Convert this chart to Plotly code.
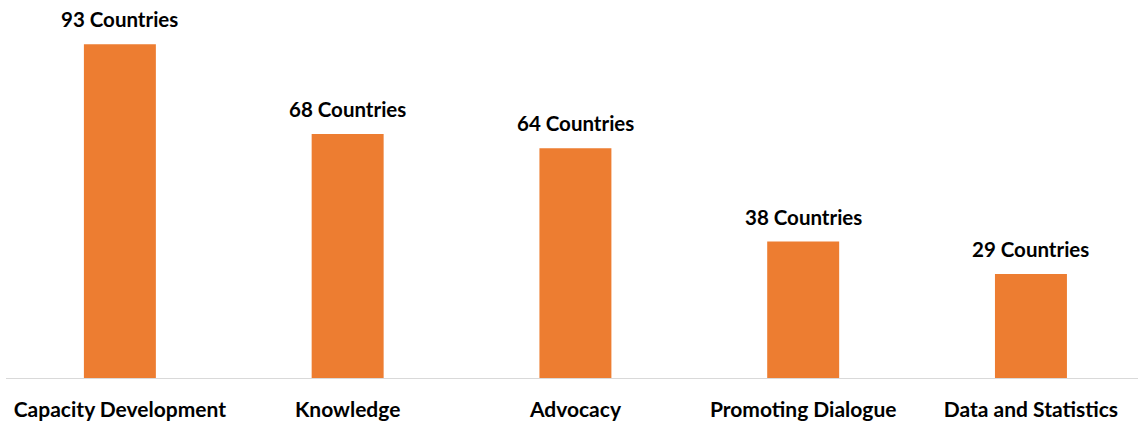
import plotly.graph_objects as go

categories = ["Capacity Development", "Knowledge", "Advocacy", "Promoting Dialogue", "Data and Statistics"]
values = [93, 68, 64, 38, 29]
labels = [f"{v} Countries" for v in values]

FONT = "Lato"

fig = go.Figure(go.Bar(
    x=categories, y=values,
    marker=dict(color="#ED7D31", line=dict(width=0)),
    hoverinfo="skip",
))

for c, v, t in zip(categories, values, labels):
    fig.add_annotation(x=c, y=v, text=t, showarrow=False, yanchor="bottom", yshift=11,
                       font=dict(family=FONT, size=20.5, color="#000000", weight="bold"))

fig.update_layout(
    width=1138, height=421,
    margin=dict(l=6, r=0, t=0, b=43, autoexpand=False),
    paper_bgcolor="white", plot_bgcolor="white",
    bargap=0.684,
    showlegend=False,
    xaxis=dict(range=[-0.5, 4.47], showline=True, linecolor="#D9D9D9", linewidth=1,
               ticks="", showgrid=False, zeroline=False, automargin=False,
               ticklabelstandoff=13,
               tickfont=dict(family=FONT, size=21, color="#000000", weight="bold")),
    yaxis=dict(range=[0, 105.3], visible=False, showgrid=False, zeroline=False),
)
fig.write_html("out.html", config={"displayModeBar": False},
               post_script="document.body.style.margin='0';")
